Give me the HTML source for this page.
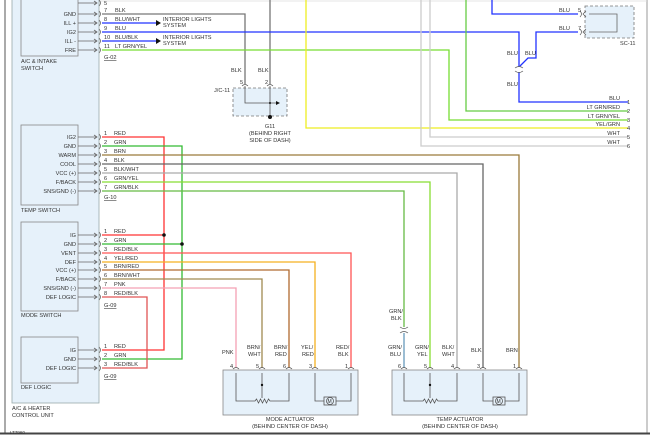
<!DOCTYPE html>
<html><head><meta charset="utf-8"><style>
html,body{margin:0;padding:0;background:#fff;}
svg{display:block;}
text{font-family:"Liberation Sans",sans-serif;font-size:5.6px;fill:#333;}
</style></head><body>
<svg width="650" height="435" viewBox="0 0 650 435" xmlns="http://www.w3.org/2000/svg">
<rect width="650" height="435" fill="#fff"/>
<!-- frame -->
<line x1="5" y1="0" x2="5" y2="433" stroke="#555" stroke-width="1"/>
<line x1="647" y1="0" x2="647" y2="433" stroke="#999" stroke-width="1"/>
<line x1="0" y1="433.5" x2="650" y2="433.5" stroke="#444" stroke-width="2"/>
<line x1="100" y1="1" x2="647" y2="1" stroke="#ddd" stroke-width="0.8"/>

<!-- control unit -->
<rect x="12" y="-5" width="87" height="408" fill="#e6f1fa" stroke="#9aa" stroke-width="0.8"/>
<rect x="21" y="-5" width="57" height="61" fill="#e6f1fa" stroke="#888" stroke-width="0.8"/>
<rect x="21" y="125" width="57" height="80" fill="#e6f1fa" stroke="#888" stroke-width="0.8"/>
<rect x="21" y="222" width="57" height="89" fill="#e6f1fa" stroke="#888" stroke-width="0.8"/>
<rect x="21" y="337" width="57" height="46" fill="#e6f1fa" stroke="#888" stroke-width="0.8"/>
<text x="21" y="63">A/C &amp; INTAKE</text><text x="21" y="70">SWITCH</text>
<text x="21" y="212">TEMP SWITCH</text>
<text x="21" y="317">MODE SWITCH</text>
<text x="21" y="389">DEF LOGIC</text>
<text x="12" y="410">A/C &amp; HEATER</text><text x="12" y="417">CONTROL UNIT</text>
<text x="10" y="434" style="font-size:4.5px">LT7960</text>

<!-- wires (drawn first) -->
<g fill="none" stroke-width="1.3">
<!-- A/C intake -->
<polyline points="102,14 245,14 245,84" stroke="#777"/>
<line x1="270" y1="0" x2="270" y2="84" stroke="#777"/>
<line x1="102" y1="23" x2="158" y2="23" stroke="#2233ff"/>
<polyline points="102,32 519,32 519,67" stroke="#2233ff"/>
<polyline points="519,72 519,102 628,102" stroke="#2233ff"/>
<polyline points="520,66 528,58 536,58 536,32 578,32" stroke="#2233ff"/>
<polyline points="492,0 492,14 578,14" stroke="#2233ff"/>
<line x1="102" y1="41" x2="158" y2="41" stroke="#2233ff"/>
<polyline points="102,50 449,50 449,120 628,120" stroke="#77dd33"/>
<polyline points="466,0 466,111 628,111" stroke="#66cc44"/>
<polyline points="306,0 306,128 628,128" stroke="#eeee22"/>
<polyline points="430,0 430,137 628,137" stroke="#ccc"/>
<polyline points="421,0 421,146 628,146" stroke="#ccc"/>
<!-- temp switch -->
<polyline points="102,137 164,137 164,350 102,350" stroke="#ff3333"/>
<polyline points="102,146 182,146 182,359 102,359" stroke="#33bb33"/>
<line x1="102" y1="235" x2="164" y2="235" stroke="#ff3333"/>
<line x1="102" y1="244" x2="182" y2="244" stroke="#33bb33"/>
<polyline points="102,155 519,155 519,368" stroke="#9a7a3a"/>
<polyline points="102,164 483,164 483,368" stroke="#666"/>
<polyline points="102,173 457,173 457,368" stroke="#aaa"/>
<polyline points="102,182 430,182 430,368" stroke="#88dd33"/>
<polyline points="102,191 404,191 404,327" stroke="#66bb44"/>
<line x1="404" y1="333" x2="404" y2="368" stroke="#6699bb"/>
<!-- mode switch -->
<polyline points="102,253 351,253 351,368" stroke="#ff5555"/>
<polyline points="102,262 315,262 315,368" stroke="#f5b020"/>
<polyline points="102,270 289,270 289,368" stroke="#b06a30"/>
<polyline points="102,279 262,279 262,368" stroke="#a08a50"/>
<polyline points="102,288 236,288 236,368" stroke="#f4a0b4"/>
<polyline points="102,297 147,297 147,368 102,368" stroke="#e05555"/>
</g>
<circle cx="164" cy="235" r="1.8" fill="#111"/>
<circle cx="182" cy="244" r="1.8" fill="#111"/>

<!-- pin rows -->
<g stroke="#666" stroke-width="0.8" fill="none">
<path d="M78 3H97M78 14H97M78 23H97M78 32H97M78 41H97M78 50H97"/>
<path d="M78 137H97M78 146H97M78 155H97M78 164H97M78 173H97M78 182H97M78 191H97"/>
<path d="M78 235H97M78 244H97M78 253H97M78 262H97M78 270H97M78 279H97M78 288H97M78 297H97"/>
<path d="M78 350H97M78 359H97M78 368H97"/>
<path d="M94 1L97 3L94 5M94 12L97 14L94 16M94 21L97 23L94 25M94 30L97 32L94 34M94 39L97 41L94 43M94 48L97 50L94 52"/>
<path d="M94 135L97 137L94 139M94 144L97 146L94 148M94 153L97 155L94 157M94 162L97 164L94 166M94 171L97 173L94 175M94 180L97 182L94 184M94 189L97 191L94 193"/>
<path d="M94 233L97 235L94 237M94 242L97 244L94 246M94 251L97 253L94 255M94 260L97 262L94 264M94 268L97 270L94 272M94 277L97 279L94 281M94 286L97 288L94 290M94 295L97 297L94 299"/>
<path d="M94 348L97 350L94 352M94 357L97 359L94 361M94 366L97 368L94 370"/>
<path d="M99 0q3 3 0 6M99 11q3 3 0 6M99 20q3 3 0 6M99 29q3 3 0 6M99 38q3 3 0 6M99 47q3 3 0 6"/>
<path d="M99 134q3 3 0 6M99 143q3 3 0 6M99 152q3 3 0 6M99 161q3 3 0 6M99 170q3 3 0 6M99 179q3 3 0 6M99 188q3 3 0 6"/>
<path d="M99 232q3 3 0 6M99 241q3 3 0 6M99 250q3 3 0 6M99 259q3 3 0 6M99 267q3 3 0 6M99 276q3 3 0 6M99 285q3 3 0 6M99 294q3 3 0 6"/>
<path d="M99 347q3 3 0 6M99 356q3 3 0 6M99 365q3 3 0 6"/>
</g>
<g text-anchor="end">
<text x="76" y="16">GND</text><text x="76" y="25">ILL +</text><text x="76" y="34">IG2</text><text x="76" y="43">ILL -</text><text x="76" y="52">FRE</text>
<text x="76" y="139">IG2</text><text x="76" y="148">GND</text><text x="76" y="157">WARM</text><text x="76" y="166">COOL</text><text x="76" y="175">VCC (+)</text><text x="76" y="184">F/BACK</text><text x="76" y="193">SNS/GND (-)</text>
<text x="76" y="237">IG</text><text x="76" y="246">GND</text><text x="76" y="255">VENT</text><text x="76" y="264">DEF</text><text x="76" y="272">VCC (+)</text><text x="76" y="281">F/BACK</text><text x="76" y="290">SNS/GND (-)</text><text x="76" y="299">DEF LOGIC</text>
<text x="76" y="352">IG</text><text x="76" y="361">GND</text><text x="76" y="370">DEF LOGIC</text>
</g>
<text x="104" y="5">5</text>
<text x="104" y="12">7</text><text x="115" y="12">BLK</text>
<text x="104" y="21">8</text><text x="115" y="21">BLU/WHT</text>
<text x="104" y="30">9</text><text x="115" y="30">BLU</text>
<text x="104" y="39">10</text><text x="115" y="39">BLU/BLK</text>
<text x="104" y="48">11</text><text x="115" y="48">LT GRN/YEL</text>
<text x="104" y="59" text-decoration="underline">G-02</text>
<path d="M156 20L161 23L156 26Z M156 38L161 41L156 44Z" fill="#111"/>
<text x="163" y="21">INTERIOR LIGHTS</text><text x="163" y="27">SYSTEM</text>
<text x="163" y="39">INTERIOR LIGHTS</text><text x="163" y="45">SYSTEM</text>

<text x="104" y="135">1</text><text x="114" y="135">RED</text>
<text x="104" y="144">2</text><text x="114" y="144">GRN</text>
<text x="104" y="153">3</text><text x="114" y="153">BRN</text>
<text x="104" y="162">4</text><text x="114" y="162">BLK</text>
<text x="104" y="171">5</text><text x="114" y="171">BLK/WHT</text>
<text x="104" y="180">6</text><text x="114" y="180">GRN/YEL</text>
<text x="104" y="189">7</text><text x="114" y="189">GRN/BLK</text>
<text x="104" y="199" text-decoration="underline">G-10</text>

<text x="104" y="233">1</text><text x="114" y="233">RED</text>
<text x="104" y="242">2</text><text x="114" y="242">GRN</text>
<text x="104" y="251">3</text><text x="114" y="251">RED/BLK</text>
<text x="104" y="260">4</text><text x="114" y="260">YEL/RED</text>
<text x="104" y="268">5</text><text x="114" y="268">BRN/RED</text>
<text x="104" y="277">6</text><text x="114" y="277">BRN/WHT</text>
<text x="104" y="286">7</text><text x="114" y="286">PNK</text>
<text x="104" y="295">8</text><text x="114" y="295">RED/BLK</text>
<text x="104" y="307" text-decoration="underline">G-09</text>

<text x="104" y="348">1</text><text x="114" y="348">RED</text>
<text x="104" y="357">2</text><text x="114" y="357">GRN</text>
<text x="104" y="366">3</text><text x="114" y="366">RED/BLK</text>
<text x="104" y="378" text-decoration="underline">G-09</text>

<!-- J/C-11 -->
<rect x="233" y="88" width="54" height="28" fill="#e6f1fa" stroke="#777" stroke-width="0.8" stroke-dasharray="3,2"/>
<g stroke="#555" stroke-width="0.8" fill="none">
<path d="M245 86V103H276M270 86V117"/>
<path d="M242 86q3-3 6 0M267 86q3-3 6 0"/>
</g>
<path d="M276 101L280 103L276 105Z" fill="#111"/>
<circle cx="270" cy="103" r="1" fill="#111"/>
<circle cx="270" cy="117" r="2" fill="#111"/>
<text x="231" y="72">BLK</text><text x="258" y="72">BLK</text>
<text x="240" y="84">5</text><text x="265" y="84">2</text>
<text x="214" y="92">J/C-11</text>
<g text-anchor="middle"><text x="270" y="128">G11</text><text x="270" y="135">(BEHIND RIGHT</text><text x="270" y="142">SIDE OF DASH)</text></g>

<!-- SC-11 -->
<rect x="585" y="6" width="49" height="32" fill="#e6f1fa" stroke="#777" stroke-width="0.8" stroke-dasharray="3,2"/>
<path d="M589 14H617V32H589" fill="none" stroke="#666" stroke-width="0.8"/>
<path d="M580 11q3 3 0 6M580 29q3 3 0 6M586 11L583 14L586 17M586 29L583 32L586 35" fill="none" stroke="#555" stroke-width="0.7"/>
<text x="559" y="12">BLU</text><text x="578" y="12">5</text>
<text x="559" y="30">BLU</text><text x="578" y="30">7</text>
<text x="620" y="45">SC-11</text>
<path d="M515 68q4-3 8 0M515 71q4 3 8 0" fill="none" stroke="#555" stroke-width="0.7"/>
<text x="507" y="55">BLU</text><text x="525" y="55">BLU</text><text x="507" y="86">BLU</text>
<g text-anchor="end">
<text x="620" y="100">BLU</text><text x="620" y="109">LT GRN/RED</text><text x="620" y="118">LT GRN/YEL</text><text x="620" y="126">YEL/GRN</text><text x="620" y="135">WHT</text><text x="620" y="144">WHT</text>
</g>
<text x="627" y="104">1</text><text x="627" y="113">2</text><text x="627" y="122">3</text><text x="627" y="130">4</text><text x="627" y="139">5</text><text x="627" y="148">6</text>

<!-- GRN/BLK connector -->
<path d="M400 327q4 3 8 0M400 333q4-3 8 0" fill="none" stroke="#555" stroke-width="0.7"/>
<text x="389" y="313">GRN/</text><text x="391" y="320">BLK</text>

<!-- actuators -->
<rect x="223" y="370" width="135" height="45" fill="#e6f1fa" stroke="#888" stroke-width="0.8"/>
<rect x="392" y="370" width="135" height="45" fill="#e6f1fa" stroke="#888" stroke-width="0.8"/>
<g stroke="#555" stroke-width="0.8" fill="none">
<path d="M233 369q3-3 6 0M259 369q3-3 6 0M286 369q3-3 6 0M312 369q3-3 6 0M348 369q3-3 6 0"/>
<path d="M401 369q3-3 6 0M427 369q3-3 6 0M454 369q3-3 6 0M480 369q3-3 6 0M516 369q3-3 6 0"/>
<path d="M236 373V401H255l1.5-2 2 4 2-4 2 4 2-4 2 4 2-4 1.5 2H289V373"/>
<path d="M262 373V398M315 373V401H324M336 401H351V373"/>
<path d="M404 373V401H423l1.5-2 2 4 2-4 2 4 2-4 2 4 2-4 1.5 2H457V373"/>
<path d="M430 373V398M483 373V401H493M505 401H519V373"/>
<rect x="324" y="397" width="12" height="8"/><circle cx="330" cy="401" r="3.5"/>
<rect x="493" y="397" width="12" height="8"/><circle cx="499" cy="401" r="3.5"/>
</g>
<circle cx="262" cy="385" r="1.2" fill="#111"/><circle cx="430" cy="385" r="1.2" fill="#111"/>
<text x="327.5" y="403" style="font-size:5px">M</text><text x="496.5" y="403" style="font-size:5px">M</text>
<text x="230" y="368">4</text><text x="256" y="368">5</text><text x="283" y="368">6</text><text x="309" y="368">3</text><text x="345" y="368">1</text>
<text x="398" y="368">6</text><text x="424" y="368">5</text><text x="451" y="368">4</text><text x="477" y="368">3</text><text x="513" y="368">1</text>
<text x="222" y="354">PNK</text>
<text x="247" y="349">BRN/</text><text x="248" y="356">WHT</text>
<text x="274" y="349">BRN/</text><text x="275" y="356">RED</text>
<text x="301" y="349">YEL/</text><text x="302" y="356">RED</text>
<text x="336" y="349">RED/</text><text x="338" y="356">BLK</text>
<text x="388" y="349">GRN/</text><text x="390" y="356">BLU</text>
<text x="415" y="349">GRN/</text><text x="417" y="356">YEL</text>
<text x="442" y="349">BLK/</text><text x="442" y="356">WHT</text>
<text x="471" y="352">BLK</text>
<text x="506" y="352">BRN</text>
<g text-anchor="middle">
<text x="290" y="421">MODE ACTUATOR</text><text x="290" y="428">(BEHIND CENTER OF DASH)</text>
<text x="460" y="421">TEMP ACTUATOR</text><text x="460" y="428">(BEHIND CENTER OF DASH)</text>
</g>
</svg>
</body></html>
